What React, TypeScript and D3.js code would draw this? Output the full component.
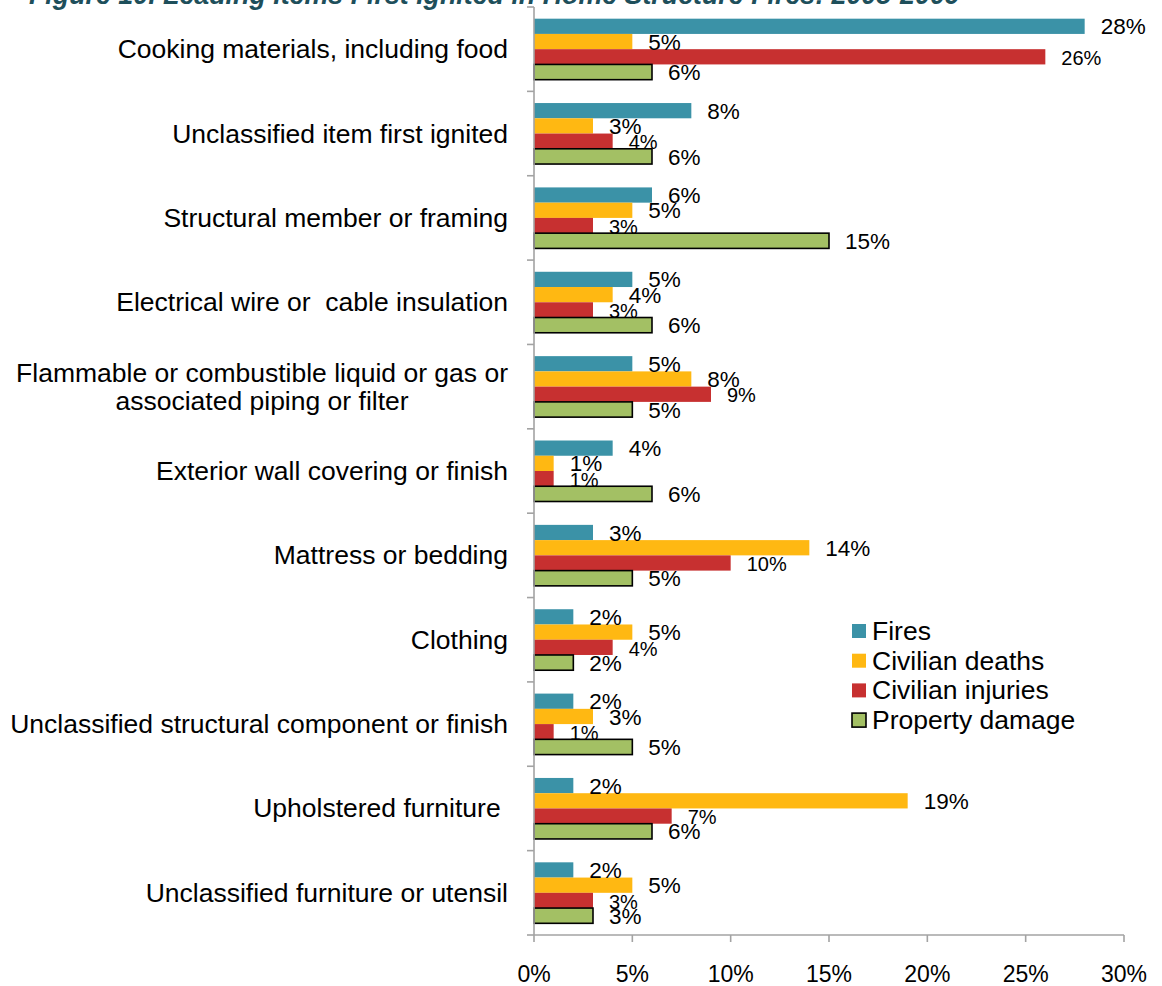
import React, { useEffect, useRef } from 'react'
import * as d3 from 'd3'

const categories = [
  'Cooking materials, including food',
  'Unclassified item first ignited',
  'Structural member or framing',
  'Electrical wire or  cable insulation',
  'Flammable or combustible liquid or gas or|associated piping or filter',
  'Exterior wall covering or finish',
  'Mattress or bedding',
  'Clothing',
  'Unclassified structural component or finish',
  'Upholstered furniture ',
  'Unclassified furniture or utensil',
]

const fires = [28, 8, 6, 5, 5, 4, 3, 2, 2, 2, 2]
const civilianDeaths = [5, 3, 5, 4, 8, 1, 14, 5, 3, 19, 5]
const civilianInjuries = [26, 4, 3, 3, 9, 1, 10, 4, 1, 7, 3]
const propertyDamage = [6, 6, 15, 6, 5, 6, 5, 2, 5, 6, 3]

const seriesNames = ['Fires', 'Civilian deaths', 'Civilian injuries', 'Property damage']
const xTicks = [0, 5, 10, 15, 20, 25, 30]

const title = 'Figure 10. Leading Items First Ignited in Home Structure Fires: 2005-2009'

const colors = ['#3b92a7', '#ffb812', '#c73030', '#a3c064']
const FONT = '"Liberation Sans", Arial, sans-serif'

export default function App() {
  const svgRef = useRef<SVGSVGElement>(null)
  const width = 1162
  const height = 986

  useEffect(() => {
    const svg = d3.select(svgRef.current)
    svg.selectAll('*').remove()

    const left = 534
    const right = 1124
    const top = 7
    const bottom = 935

    const series = [fires, civilianDeaths, civilianInjuries, propertyDamage]

    const x = d3.scaleLinear().domain([0, 30]).range([left, right])
    const y = d3.scaleBand<number>()
      .domain(d3.range(categories.length))
      .range([top, bottom])
      .paddingInner(0.277)
      .paddingOuter(0.1385)
    const ySub = d3.scaleBand<number>()
      .domain(d3.range(series.length))
      .range([0, y.bandwidth()])
      .padding(0)

    // title (cut off at top of the picture)
    svg.append('text')
      .attr('x', 29)
      .attr('y', 4)
      .style('font-family', FONT)
      .style('font-size', '26.8px')
      .style('font-weight', 'bold')
      .style('font-style', 'italic')
      .style('fill', '#1e4f5b')
      .text(title)

    // bars
    series.forEach((vals, s) => {
      svg.append('g')
        .selectAll('rect')
        .data(vals)
        .enter().append('rect')
        .attr('x', x(0))
        .attr('y', (d, i) => (y(i) as number) + (ySub(s) as number))
        .attr('width', d => x(d) - x(0))
        .attr('height', ySub.bandwidth())
        .attr('fill', colors[s])
        .attr('stroke', s === 3 ? '#000' : 'none')
        .attr('stroke-width', s === 3 ? 1.6 : 0)
    })

    // value labels
    series.forEach((vals, s) => {
      svg.append('g')
        .selectAll('text')
        .data(vals)
        .enter().append('text')
        .attr('x', d => x(d) + 16)
        .attr('y', (d, i) => (y(i) as number) + (ySub(s) as number) + ySub.bandwidth() / 2 + (s === 2 ? 1 : 0))
        .attr('dy', '0.36em')
        .style('font-family', FONT)
        .style('font-size', s === 2 ? '20px' : '22.5px')
        .style('fill', '#000')
        .text(d => `${d}%`)
    })

    // axes
    const axisColor = '#a3a3a3'
    svg.append('line')
      .attr('x1', left).attr('x2', left)
      .attr('y1', top).attr('y2', bottom)
      .attr('stroke', axisColor).attr('stroke-width', 1.6)
    svg.append('line')
      .attr('x1', left).attr('x2', right)
      .attr('y1', bottom).attr('y2', bottom)
      .attr('stroke', axisColor).attr('stroke-width', 1.6)

    const step = y.step()
    svg.append('g')
      .selectAll('line')
      .data(d3.range(categories.length + 1))
      .enter().append('line')
      .attr('x1', left - 7).attr('x2', left)
      .attr('y1', i => top + i * step)
      .attr('y2', i => top + i * step)
      .attr('stroke', axisColor).attr('stroke-width', 1.6)

    svg.append('g')
      .selectAll('line')
      .data(xTicks)
      .enter().append('line')
      .attr('x1', d => x(d)).attr('x2', d => x(d))
      .attr('y1', bottom).attr('y2', bottom + 7)
      .attr('stroke', axisColor).attr('stroke-width', 1.6)

    svg.append('g')
      .selectAll('text')
      .data(xTicks)
      .enter().append('text')
      .attr('x', d => x(d))
      .attr('y', 982)
      .attr('text-anchor', 'middle')
      .style('font-family', FONT)
      .style('font-size', '23px')
      .style('fill', '#000')
      .text(d => `${d}%`)

    // category labels
    categories.forEach((c, i) => {
      const cy = (top + (i + 0.5) * step)
      const lines = c.split('|')
      if (lines.length === 1) {
        svg.append('text')
          .attr('x', 508)
          .attr('y', cy + 9)
          .attr('text-anchor', 'end')
          .attr('xml:space', 'preserve')
          .style('white-space', 'pre')
          .style('font-family', FONT)
          .style('font-size', '26.5px')
          .style('fill', '#000')
          .text(c)
      } else {
        const first = svg.append('text')
          .attr('x', 508)
          .attr('y', cy - 5)
          .attr('text-anchor', 'end')
          .style('font-family', FONT)
          .style('font-size', '26.5px')
          .style('fill', '#000')
          .text(lines[0])
        const w = (first.node() as SVGTextElement).getComputedTextLength()
        svg.append('text')
          .attr('x', 508 - w / 2)
          .attr('y', cy + 23)
          .attr('text-anchor', 'middle')
          .style('font-family', FONT)
          .style('font-size', '26.5px')
          .style('fill', '#000')
          .text(lines[1])
      }
    })

    // legend
    const legend = svg.append('g')
    seriesNames.forEach((name, s) => {
      const ly = 631 + s * 29.7
      legend.append('rect')
        .attr('x', 852)
        .attr('y', ly - 7)
        .attr('width', 14)
        .attr('height', 14)
        .attr('fill', colors[s])
        .attr('stroke', s === 3 ? '#000' : 'none')
        .attr('stroke-width', s === 3 ? 1.6 : 0)
      legend.append('text')
        .attr('x', 872)
        .attr('y', ly + 9)
        .style('font-family', FONT)
        .style('font-size', '26.5px')
        .style('fill', '#000')
        .text(name)
    })
  }, [])

  return (
    <svg
      ref={svgRef}
      width={width}
      height={height}
      style={{ position: 'absolute', left: 0, top: 0, background: '#fff' }}
    />
  )
}
